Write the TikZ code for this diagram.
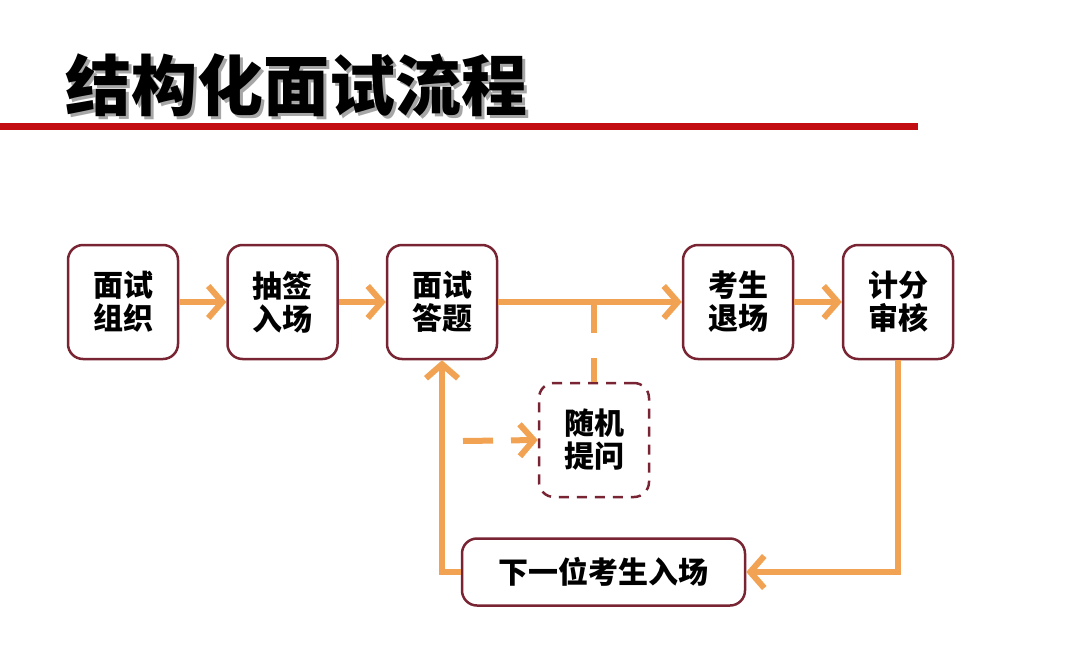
\documentclass[tikz,border=0pt]{standalone}
\usepackage{fontspec}
\newfontfamily\cjk{Noto Sans CJK SC}
\usetikzlibrary{arrows.meta}
\newlength{\du}
\setlength{\du}{0.5pt}
\definecolor{boxline}{rgb}{0.470000, 0.140000, 0.200000}
\definecolor{flowline}{rgb}{0.945000, 0.635000, 0.320000}
\definecolor{titlered}{rgb}{0.760000, 0.050000, 0.070000}
\tikzset{
  stepbox/.style={draw=boxline, line width=2.5\du, rounded corners=15\du, fill=white,
    minimum width=110\du, minimum height=114\du, align=center, inner sep=0pt,
    font=\cjk\bfseries\fontsize{15}{16.5}\selectfont},
  flow/.style={draw=flowline, line width=6\du, -{Straight Barb[length=7pt,width=16pt]}},
}

\begin{document}
\begin{tikzpicture}[x=\du,y=-\du]
\useasboundingbox (0,0) rectangle (1080,664);
\fill[white] (0,0) rectangle (1080,664);
% title
\node[anchor=west, text=black!35, font=\cjk\bfseries\fontsize{33}{33}\selectfont] at (61,88) {结构化面试流程};
\node[anchor=west, text=black, font=\cjk\bfseries\fontsize{33}{33}\selectfont] (title) at (58,85) {结构化面试流程};
\draw[titlered, line width=7\du] (0,126)--(918,126);
% boxes
\node[stepbox] (org) at (123,302) {面试\\组织};
\node[stepbox] (lots) at (282.5,302) {抽签\\入场};
\node[stepbox] (answer) at (442,302) {面试\\答题};
\node[stepbox] (leave) at (738,302) {考生\\退场};
\node[stepbox] (score) at (898,302) {计分\\审核};
\node[stepbox, dashed, dash pattern=on 5pt off 4pt] (ask) at (594,440) {随机\\提问};
\node[stepbox, minimum width=283\du, minimum height=67\du] (next) at (603.5,572) {下一位考生入场};
% connectors
\draw[flow] (org) -- (lots);
\draw[flow] (lots) -- (answer);
\draw[flow] (answer) -- (leave);
\draw[flow] (leave) -- (score);
\coordinate (branch) at (594,302);
\draw[draw=flowline, line width=6\du, dash pattern=on 15.5pt off 12.5pt] (branch) -- (ask.north);
\coordinate (askin) at (463,441);
\draw[flow, dash pattern=on 15pt off 9pt] (askin) -- (ask.west);
\draw[flow] (score.south) |- (next.east);
\draw[flow] (next.west) -| (answer.south);
\end{tikzpicture}
\end{document}
